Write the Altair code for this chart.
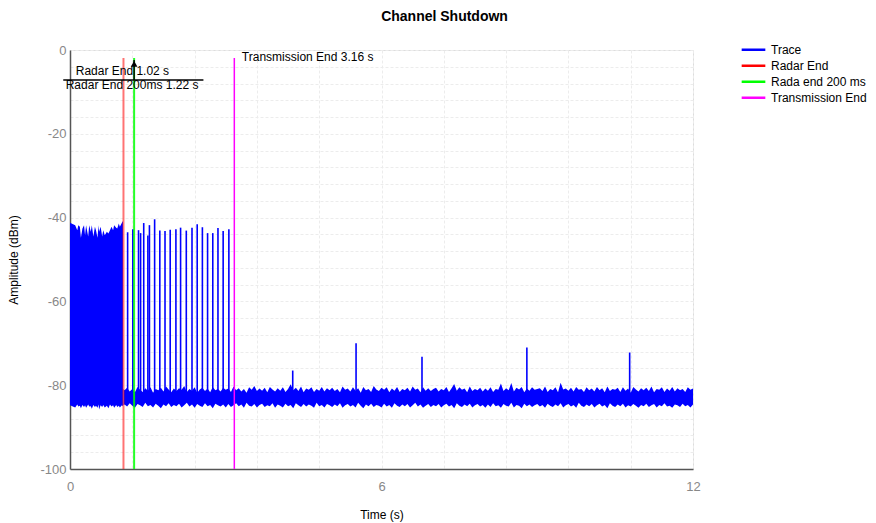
import altair as alt
import pandas as pd
import numpy as np

FONT = "Liberation Sans"

# ---------------- data ----------------
series_names = ["Trace", "Radar End", "Rada end 200 ms", "Transmission End"]
series_colors = ["#0000ff", "#ff0000", "#00ff00", "#ff00ff"]

# dense burst before radar end (top / bottom envelope, dBm)
dense_t = [0.00, 0.10, 0.14, 0.16, 0.19, 0.21, 0.24, 0.27, 0.29, 0.31, 0.35, 0.37,
           0.40, 0.42, 0.45, 0.48, 0.50, 0.53, 0.55, 0.56, 0.59, 0.62, 0.64, 0.67,
           0.71, 0.74, 0.77, 0.80, 0.83, 0.85, 0.89, 0.91, 0.94, 0.96, 1.00, 1.02]
dense_top = [-41.2, -41.8, -43.0, -41.8, -42.2, -44.8, -42.6, -41.8, -44.2, -41.8, -44.5, -41.8,
             -43.4, -41.8, -44.5, -42.2, -43.0, -44.8, -41.8, -43.4, -42.2, -44.5, -43.0, -44.2,
             -43.4, -43.8, -43.0, -42.2, -43.0, -41.8, -42.4, -42.6, -41.4, -42.2, -41.2, -40.8]
dense_bot = [-84.8, -85.3, -84.6, -85.1, -84.9, -85.5, -84.7, -85.2, -84.8, -85.4, -84.6, -85.1,
             -85.0, -85.6, -84.7, -85.2, -84.9, -85.4, -84.6, -85.8, -84.8, -85.2, -84.7, -85.3,
             -84.9, -85.5, -84.6, -85.1, -84.8, -85.4, -84.7, -85.2, -84.9, -85.3, -84.8, -85.0]

# noise floor after radar end: first sample at 1.03 s, then every 0.05 s up to 12 s
floor_first_t, floor_t0, floor_dt = 1.03, 1.05, 0.05
floor_top = [-80.9,
    -81.2, -80.6, -81.5, -80.9, -81.7, -80.4, -81.1, -81.6, -80.7, -81.3, -80.5, -81.8, -80.9, -81.2, -80.6, -81.5, -80.3, -81.0, -81.7, -80.8,
    -81.4, -80.7, -81.1, -80.2, -81.6, -80.9, -81.3, -80.5, -81.8, -81.0, -80.6, -81.4, -80.8, -81.7, -80.4, -81.2, -80.9, -81.5, -80.6, -81.1,
    -80.8, -81.6, -80.3, -81.2, -80.7, -81.5, -80.9, -81.8, -80.5, -81.1, -80.2, -81.4, -80.8, -81.3, -80.6, -81.7, -80.4, -81.0, -81.5, -80.7,
    -81.3, -80.5, -81.6, -80.9, -79.8, -81.2, -80.6, -81.4, -80.3, -81.7, -80.8, -81.1, -80.5, -81.6, -80.9, -81.3, -80.4, -81.5, -80.7, -81.2,
    -80.6, -81.4, -80.9, -81.7, -80.3, -81.1, -80.8, -81.5, -80.5, -81.3, -80.7, -81.8, -80.4, -81.2, -80.9, -81.6, -80.2, -81.0, -81.4, -80.6,
    -81.1, -80.5, -81.7, -80.8, -81.3, -80.4, -81.6, -80.9, -81.2, -80.6, -81.5, -80.3, -81.1, -80.8, -81.7, -80.5, -81.3, -80.7, -81.4, -80.9,
    -80.6, -81.5, -80.9, -81.2, -80.4, -81.6, -80.7, -79.7, -81.3, -80.5, -81.1, -80.8, -81.7, -80.3, -81.4, -80.9, -81.2, -80.6, -81.5, -80.8,
    -81.3, -80.5, -81.6, -80.9, -81.1, -79.6, -81.4, -80.7, -81.2, -79.5, -81.5, -80.6, -81.0, -80.4, -81.7, -80.8, -81.3, -80.5, -81.1, -80.9,
    -80.7, -81.4, -80.3, -81.6, -80.9, -81.2, -80.5, -81.7, -79.4, -81.0, -80.8, -81.3, -80.6, -81.5, -80.4, -81.1, -80.9, -81.6, -80.5, -81.2,
    -80.8, -81.5, -80.4, -81.2, -80.7, -81.7, -80.3, -81.4, -80.9, -81.1, -80.6, -81.6, -80.5, -81.3, -80.8, -81.8, -80.4, -81.0, -81.5, -80.7,
    -81.2, -80.6, -81.4, -80.3, -81.7, -80.9, -81.1, -80.5, -81.6, -80.8, -81.3, -80.4, -81.5, -80.7, -81.2, -80.9, -81.6, -80.5, -81.1, -80.8]
floor_bot = [-84.8,
    -84.6, -85.1, -84.3, -84.9, -85.4, -84.5, -84.8, -85.2, -84.2, -85.0, -84.7, -85.3, -84.4, -84.9, -85.5, -84.6, -85.0, -84.3, -85.2, -84.7,
    -85.0, -84.4, -85.3, -84.8, -84.2, -85.1, -84.6, -85.4, -84.5, -84.9, -85.2, -84.3, -85.0, -84.7, -85.5, -84.4, -84.8, -85.1, -84.6, -85.3,
    -84.5, -85.2, -84.8, -84.3, -85.0, -84.6, -85.4, -84.2, -84.9, -85.1, -84.5, -85.3, -84.7, -84.4, -85.2, -84.8, -85.0, -84.3, -85.4, -84.6,
    -84.9, -85.3, -84.4, -85.0, -84.7, -85.5, -84.3, -84.8, -85.2, -84.5, -85.1, -84.6, -84.9, -85.4, -84.2, -85.0, -84.7, -85.3, -84.5, -84.8,
    -85.2, -84.6, -85.0, -84.3, -85.4, -84.8, -84.5, -85.1, -84.7, -85.3, -84.2, -84.9, -85.5, -84.6, -85.0, -84.4, -85.2, -84.7, -84.9, -85.3,
    -84.4, -85.1, -84.7, -85.4, -84.3, -84.9, -85.2, -84.6, -85.0, -84.5, -85.3, -84.8, -84.2, -85.1, -84.6, -85.4, -84.9, -84.5, -85.2, -84.7,
    -85.0, -84.5, -85.3, -84.8, -84.4, -85.1, -84.7, -85.5, -84.3, -84.9, -85.2, -84.6, -85.0, -84.4, -85.3, -84.8, -84.5, -85.1, -84.7, -85.4,
    -84.6, -85.2, -84.3, -85.0, -84.8, -85.4, -84.5, -84.9, -85.1, -84.2, -85.3, -84.7, -84.9, -85.5, -84.4, -85.0, -84.6, -85.2, -84.8, -84.5,
    -85.1, -84.7, -85.4, -84.4, -84.9, -85.2, -84.6, -85.0, -84.3, -85.3, -84.8, -84.5, -85.1, -84.7, -85.4, -84.2, -84.9, -85.2, -84.6, -85.0,
    -84.5, -85.3, -84.8, -84.4, -85.1, -84.7, -85.5, -84.3, -84.9, -85.2, -84.6, -85.0, -84.4, -85.3, -84.8, -85.1, -84.5, -84.9, -85.4, -84.7,
    -85.0, -84.4, -85.2, -84.8, -84.5, -85.3, -84.7, -85.0, -84.3, -85.1, -84.9, -85.4, -84.6, -84.8, -85.2, -84.4, -85.0, -84.7, -85.3, -84.6]

# isolated spikes (time s, peak dBm)
spike_t = [1.11, 1.21, 1.32, 1.36, 1.42, 1.50, 1.53, 1.63, 1.73, 1.83, 1.93, 2.04,
           2.13, 2.24, 2.35, 2.45, 2.55, 2.65, 2.75, 2.85, 2.95, 3.06,
           4.29, 5.51, 6.78, 8.80, 10.78]
spike_top = [-43.5, -42.8, -43.0, -43.7, -41.3, -44.3, -41.8, -40.4, -43.1, -43.2, -42.9, -42.8,
             -42.4, -43.1, -42.4, -41.6, -42.3, -43.7, -43.7, -42.5, -43.2, -42.8,
             -76.5, -70.0, -73.2, -71.0, -72.2]
spike_base = -82.0

# vertical markers
marker_t = [1.03, 1.235, 3.165]
marker_names = ["Radar End", "Rada end 200 ms", "Transmission End"]
marker_opacity = [0.55, 0.85, 1.0]
marker_width = [2.0, 2.0, 1.5]
marker_top, marker_bottom = -1.9, -100

# annotations
ann_text = ["Radar End 1.02 s", "Radar End 200ms 1.22 s", "Transmission End 3.16 s"]
ann_t = [0.11, -0.083, 3.31]
ann_v = [-4.93, -8.34, -1.74]
hline_t = [-0.13, 2.57]
hline_v = -7.15
arrow_t = 1.235
arrow_v = [-2.4, -7.15]
arrow_head_v = -3.3

x_grid_vals = [0, 1.2, 2.4, 3.6, 4.8, 6, 7.2, 8.4, 9.6, 10.8, 12]
y_grid_vals = [-100, -96, -92, -88, -84, -80, -76, -72, -68, -64, -60, -56, -52,
               -48, -44, -40, -36, -32, -28, -24, -20, -16, -12, -8, -4, 0]

# ---------------- tables ----------------
floor_times = np.round(np.concatenate([[floor_first_t],
                                       floor_t0 + floor_dt * np.arange(len(floor_top) - 1)]), 3)
dense_df = pd.DataFrame({"t": dense_t, "v": dense_top, "v2": dense_bot})
floor_df = pd.DataFrame({"t": floor_times, "v": floor_top, "v2": floor_bot})
spike_df = pd.DataFrame({"t": spike_t, "v": spike_top, "v2": [spike_base] * len(spike_t),
                         "series": ["Trace"] * len(spike_t)})
marker_df = pd.DataFrame({"t": marker_t, "v": [marker_top] * 3, "v2": [marker_bottom] * 3,
                          "series": marker_names, "op": marker_opacity, "w": marker_width})
ann_df = pd.DataFrame({"t": ann_t, "v": ann_v, "label": ann_text})
hline_df = pd.DataFrame({"t": [hline_t[0]], "t2": [hline_t[1]], "v": [hline_v]})
arrow_df = pd.DataFrame({"t": [arrow_t], "v": [arrow_v[0]], "v2": [arrow_v[1]]})
head_df = pd.DataFrame({"t": [arrow_t], "v": [arrow_head_v]})

# ---------------- scales / axes ----------------
x_scale = alt.Scale(domain=[0, 12], nice=False, zero=False)
y_scale = alt.Scale(domain=[-100, 0], nice=False, zero=False)
color_scale = alt.Scale(domain=series_names, range=series_colors)

x_axis = alt.Axis(values=x_grid_vals,
                  labelExpr="datum.value % 6 == 0 ? '' + datum.value : ''",
                  grid=True, gridColor="#ececec", gridDash=[3, 2], gridWidth=1,
                  ticks=False, domainColor="#555555", domainWidth=1.5, labelFlush=False,
                  labelColor="#888888", labelFont=FONT, labelFontSize=13, labelPadding=11,
                  title="Time (s)", titleFont=FONT, titleFontSize=12, titleFontWeight="normal",
                  titleColor="#000000", titlePadding=16)
y_axis = alt.Axis(values=y_grid_vals,
                  labelExpr="datum.value % 20 == 0 ? '' + datum.value : ''",
                  grid=True, gridColor="#ececec", gridDash=[3, 2], gridWidth=1,
                  ticks=False, domainColor="#555555", domainWidth=1.5, labelFlush=False,
                  labelColor="#888888", labelFont=FONT, labelFontSize=13, labelPadding=4,
                  title="Amplitude (dBm)", titleFont=FONT, titleFontSize=12, titleFontWeight="normal",
                  titleColor="#000000", titlePadding=19)

def X(field="t"):
    return alt.X(f"{field}:Q", scale=x_scale, axis=x_axis)

def Y(field="v"):
    return alt.Y(f"{field}:Q", scale=y_scale, axis=y_axis)

legend = alt.Legend(title=None, orient="none", legendX=670, legendY=-8,
                    symbolType="stroke", symbolSize=560, symbolStrokeWidth=2.5,
                    labelFont=FONT, labelFontSize=12, labelColor="#000000",
                    clipHeight=15.5, rowPadding=0, padding=0, labelOffset=4, labelLimit=0)

# ---------------- layers ----------------
dense = alt.Chart(dense_df).mark_area(color="#0000ff", opacity=1).encode(
    x=X(), y=Y(), y2="v2:Q")
floor = alt.Chart(floor_df).mark_area(color="#0000ff", opacity=1).encode(
    x=X(), y=Y(), y2="v2:Q")
spikes = alt.Chart(spike_df).mark_rule(strokeWidth=1.6).encode(
    x=X(), y=Y(), y2="v2:Q",
    color=alt.Color("series:N", scale=color_scale, legend=legend))
markers = alt.Chart(marker_df).mark_rule().encode(
    x=X(), y=Y(), y2="v2:Q",
    color=alt.Color("series:N", scale=color_scale, legend=legend),
    opacity=alt.Opacity("op:Q", scale=None, legend=None),
    strokeWidth=alt.StrokeWidth("w:Q", scale=None, legend=None))
hline = alt.Chart(hline_df).mark_rule(color="#000000", strokeWidth=1.5).encode(
    x=X(), x2="t2:Q", y=Y())
arrow = alt.Chart(arrow_df).mark_rule(color="#000000", strokeWidth=1.5).encode(
    x=X(), y=Y(), y2="v2:Q")
head = alt.Chart(head_df).mark_point(shape="triangle-up", filled=True, color="#000000",
                                     size=45, opacity=1).encode(x=X(), y=Y())
texts = alt.Chart(ann_df).mark_text(align="left", baseline="middle", font=FONT,
                                    fontSize=12, color="#000000").encode(
    x=X(), y=Y(), text="label:N")

chart = alt.layer(dense, floor, spikes, markers, hline, arrow, head, texts).properties(
    width=623, height=419,
    autosize=alt.AutoSizeParams(type="none"),
    padding={"left": 62, "top": 42, "right": 175, "bottom": 53},
    title=alt.TitleParams("Channel Shutdown", font=FONT, fontSize=14, fontWeight="bold",
                          color="#000000", anchor="middle", frame="group", dx=63,
                          offset=7, baseline="alphabetic"),
).configure_view(strokeWidth=0).configure(background="#ffffff")

chart.save("out.html", embed_options={"renderer": "svg", "actions": False})
